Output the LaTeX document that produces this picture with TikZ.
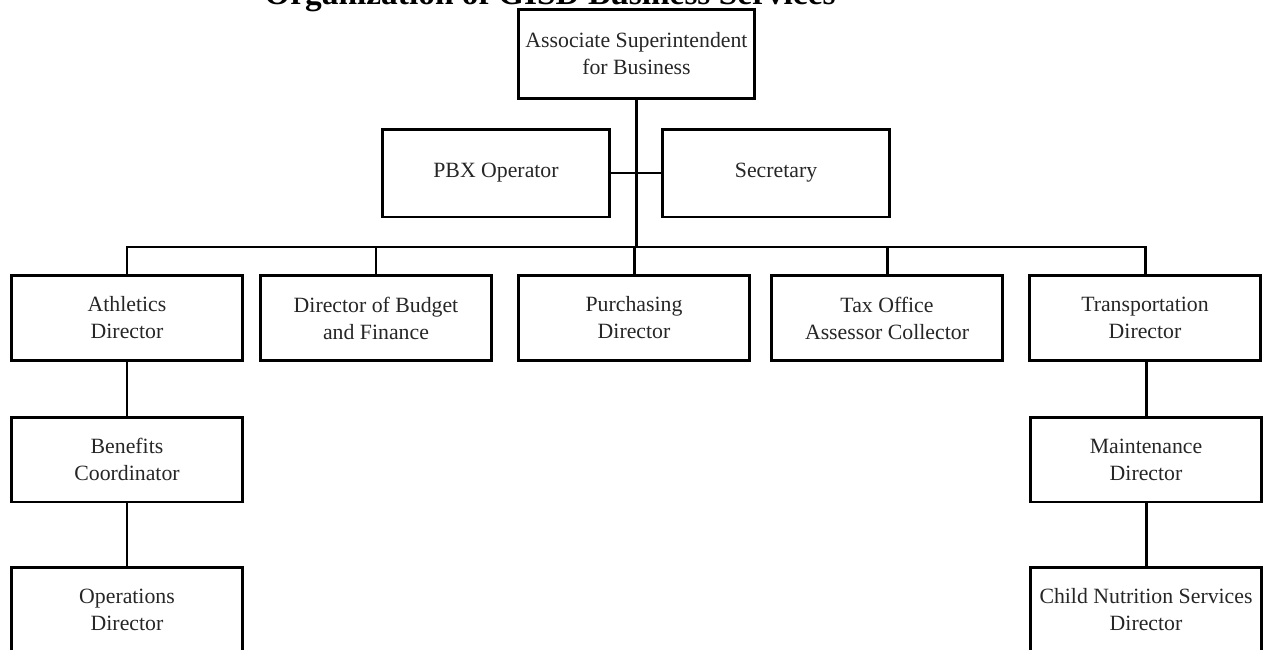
\documentclass[tikz,border=0pt]{standalone}
\usepackage{fontspec}
\setmainfont{Liberation Serif}
\usetikzlibrary{calc,positioning}
\begin{document}
\begin{tikzpicture}[x=0.02cm, y=-0.02cm, line width=1.7pt, lbl/.style={font=\fontsize{19}{22}\selectfont\bfseries}]
\tikzstyle{box}=[draw, rectangle, line width=1.7pt, minimum width=4.62cm, minimum height=1.7cm, align=center, inner sep=0pt, font=\fontsize{12.4}{15.4}\selectfont, text=black!85]
\useasboundingbox (0,0) rectangle (1270,649);
\node[lbl, anchor=base] (ttl) at (550,5) {Organization of GISD Business Services};
\node[box, minimum width=4.74cm, minimum height=1.8cm] (asb) at (636.5,54) {Associate Superintendent\\for Business};
\node[box, minimum width=4.56cm, minimum height=1.76cm] (pbx) at (496,173) {PBX Operator};
\node[box, minimum width=4.56cm, minimum height=1.76cm] (sec) at (776,173) {Secretary};
\node[box] (ath) at (127,318) {Athletics\\Director};
\node[box] (bud) at (376,318) {Director of Budget\\and Finance};
\node[box] (pur) at (634,318) {Purchasing\\Director};
\node[box] (tax) at (887,318) {Tax Office\\Assessor Collector};
\node[box] (tra) at (1145,318) {Transportation\\Director};
\node[box] (ben) at (127,459.5) {Benefits\\Coordinator};
\node[box] (ops) at (127,610) {Operations\\Director};
\node[box] (mai) at (1146,459.5) {Maintenance\\Director};
\node[box] (cns) at (1146,610) {Child Nutrition Services\\Director};
\coordinate (bus) at (636,247);
\draw (asb.south) -- (asb.south |- bus);
\draw (pbx.east) -- (sec.west);
\draw (ath.north) -- (ath.north |- bus) -- (tra.north |- bus) -- (tra.north);
\foreach \b in {bud,pur,tax}{\draw (\b.north |- bus) -- (\b.north);}
\foreach \i/\j in {ath/ben,ben/ops,tra/mai,mai/cns}{\draw (\i.south) -- (\i.south -| \j.north) -- (\j.north);}
\end{tikzpicture}
\end{document}
